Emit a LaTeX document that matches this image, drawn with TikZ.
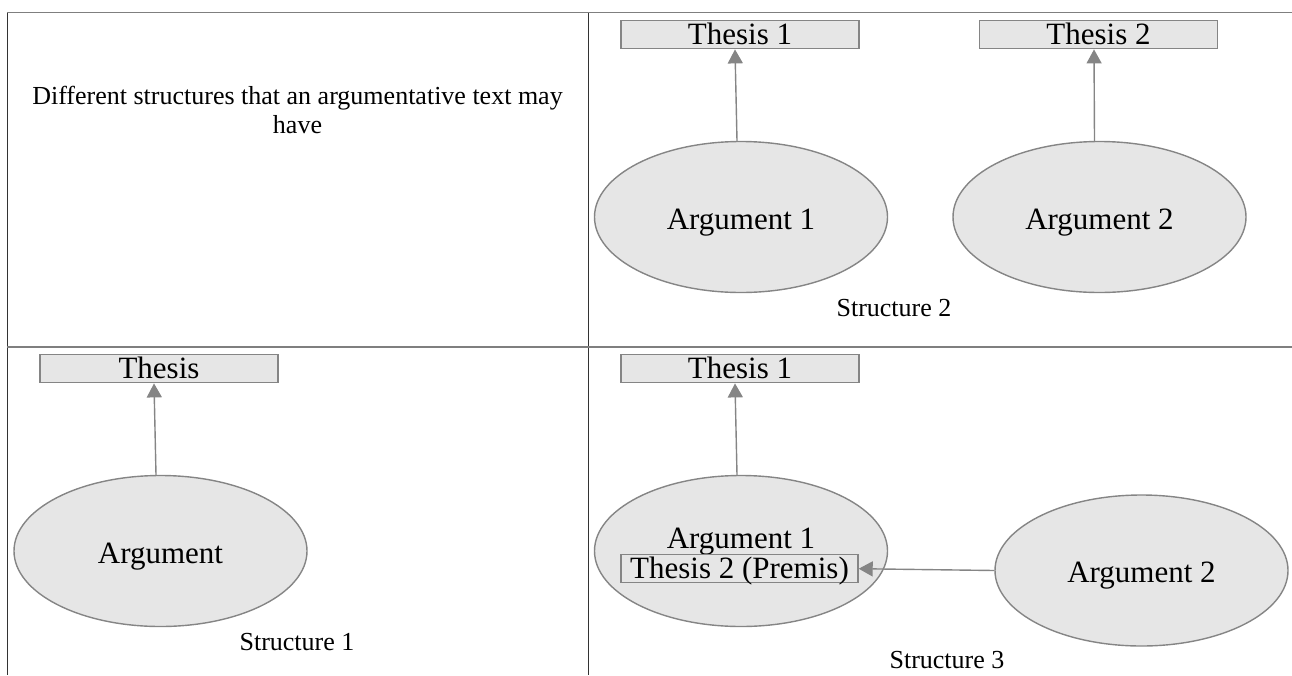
\documentclass[tikz,border=0pt]{standalone}
\usepackage{fontspec}
\setmainfont{Liberation Serif}
\usetikzlibrary{shapes.geometric,arrows.meta}
\definecolor{boxfill}{HTML}{E6E6E6}
\definecolor{edgegray}{HTML}{858585}
\definecolor{rulegray}{HTML}{7F7F7F}
\tikzset{
  thesisbox/.style={draw=edgegray, line width=1.4pt, fill=boxfill, inner sep=0pt,
    minimum width=238pt, text height=24pt, text depth=4pt,
    font=\fontsize{31}{31}\selectfont},
  argell/.style={ellipse, draw=edgegray, line width=1.4pt, fill=boxfill, inner sep=0pt,
    minimum width=293pt, minimum height=151pt, text height=24pt, text depth=0pt,
    font=\fontsize{31}{31}\selectfont},
  bigtext/.style={inner sep=0pt, font=\fontsize{31}{31}\selectfont},
  captext/.style={inner sep=0pt, font=\fontsize{26}{29}\selectfont},
  arr/.style={draw=edgegray, line width=1.4pt, -{Triangle[length=14pt,width=15pt]}},
  hrule/.style={draw=rulegray, line width=1.5pt},
  vrule/.style={draw=black!80, line width=0.9pt},
}
\begin{document}
\begin{tikzpicture}[x=1pt,y=-1pt]
\useasboundingbox (0,0) rectangle (1292,675);
% table rules
\coordinate (tl) at (7,12.5);
\coordinate (tr) at (1292,12.5);
\coordinate (ml) at (7,347);
\coordinate (mr) at (1292,347);
\coordinate (tc) at (588,12.5);
\coordinate (bl) at (7,675);
\coordinate (bc) at (588,675);
\draw[vrule] (tl) -- (bl);
\draw[vrule] (tc) -- (bc);
\draw[hrule] (tl) -- (tr);
\draw[hrule] (ml) -- (mr);

% header cell
\node[captext, align=center, anchor=base] (hdr) at (297.5,133) {Different structures that an argumentative text may\\have};

% Structure 2 (top right)
\node[thesisbox, anchor=north] (s2t1) at (740,20) {Thesis 1};
\node[thesisbox, anchor=north] (s2t2) at (1098.5,20) {Thesis 2};
\node[argell] (s2a1) at (741,217) {Argument 1};
\node[argell] (s2a2) at (1099.5,217) {Argument 2};
\draw[arr] ([xshift=-4pt]s2a1.north) -- ([xshift=-5pt]s2t1.south);
\draw[arr] ([xshift=-5pt]s2a2.north) -- ([xshift=-4.5pt]s2t2.south);
\node[captext, anchor=base] (s2lab) at (894,316) {Structure 2};

% Structure 1 (bottom left)
\node[thesisbox, anchor=north] (s1t) at (159,354) {Thesis};
\node[argell] (s1a) at (160.5,551) {Argument};
\draw[arr] ([xshift=-4.5pt]s1a.north) -- ([xshift=-5pt]s1t.south);
\node[captext, anchor=base] (s1lab) at (297,650) {Structure 1};

% Structure 3 (bottom right)
\node[thesisbox, anchor=north] (s3t1) at (740,354) {Thesis 1};
\node[argell, text height=0pt] (s3a1) at (741,551) {};
\node[bigtext, anchor=base] (s3a1txt) at (741,548) {Argument 1};
\node[thesisbox, minimum width=237pt, anchor=north] (s3t2) at (739.5,554) {Thesis 2 (Premis)};
\node[argell] (s3a2) at (1141.5,570.5) {Argument 2};
\draw[arr] ([xshift=-4pt]s3a1.north) -- ([xshift=-5pt]s3t1.south);
\draw[arr] (s3a2.west) -- (s3t2.east);
\node[captext, anchor=base] (s3lab) at (947,668) {Structure 3};
\end{tikzpicture}
\end{document}
